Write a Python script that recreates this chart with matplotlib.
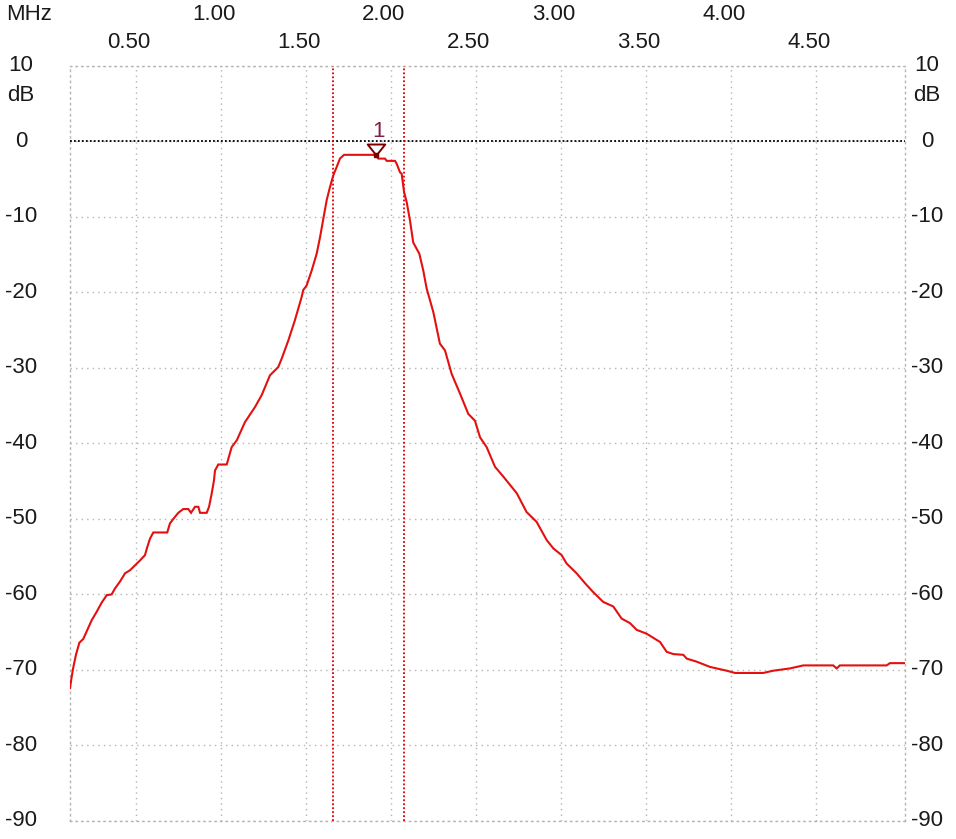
import matplotlib
matplotlib.use("Agg")
import matplotlib.pyplot as plt
from matplotlib.path import Path
from matplotlib.transforms import blended_transform_factory, offset_copy

# ---- data ----
freq_mhz = [0.112, 0.122, 0.131, 0.147, 0.167, 0.190, 0.220, 0.240, 0.269, 0.298,
            0.328, 0.357, 0.377, 0.406, 0.436, 0.465, 0.524, 0.553, 0.567, 0.583,
            0.602, 0.684, 0.700, 0.720, 0.749, 0.778, 0.808, 0.824, 0.847, 0.867,
            0.877, 0.916, 0.930, 0.946, 0.959, 0.965, 0.984, 1.034, 1.063, 1.093,
            1.141, 1.200, 1.240, 1.288, 1.337, 1.357, 1.396, 1.435, 1.475, 1.484,
            1.504, 1.534, 1.563, 1.583, 1.602, 1.622, 1.641, 1.661, 1.681, 1.700,
            1.724, 1.906, 1.926, 1.965, 1.975, 2.024, 2.034, 2.053, 2.063, 2.077,
            2.093, 2.112, 2.131, 2.167, 2.190, 2.210, 2.249, 2.288, 2.318, 2.357,
            2.406, 2.455, 2.494, 2.524, 2.563, 2.612, 2.661, 2.740, 2.798, 2.857,
            2.916, 2.955, 3.004, 3.033, 3.092, 3.141, 3.190, 3.249, 3.308, 3.357,
            3.406, 3.446, 3.504, 3.583, 3.622, 3.661, 3.720, 3.740, 3.798, 3.877,
            3.975, 4.024, 4.190, 4.249, 4.347, 4.426, 4.602, 4.622, 4.641, 4.779,
            4.916, 4.935, 5.024]
level_db = [-72.4, -70.9, -69.7, -68.0, -66.4, -65.9, -64.4, -63.4, -62.3, -61.1,
            -60.1, -60.0, -59.2, -58.3, -57.2, -56.8, -55.5, -54.8, -53.7, -52.6,
            -51.8, -51.8, -50.6, -50.0, -49.2, -48.7, -48.7, -49.2, -48.4, -48.4,
            -49.2, -49.2, -48.4, -46.6, -44.9, -43.6, -42.8, -42.8, -40.5, -39.6,
            -37.2, -35.2, -33.6, -31.0, -29.9, -28.8, -26.4, -23.7, -20.6, -19.7,
            -19.1, -17.1, -14.9, -12.7, -10.3, -7.8, -6.1, -4.5, -3.4, -2.3,
            -1.8, -1.8, -2.3, -2.3, -2.6, -2.6, -3.0, -4.1, -4.3, -6.7,
            -8.1, -10.5, -13.4, -14.9, -17.1, -19.5, -22.6, -26.8, -27.7, -30.8,
            -33.4, -36.1, -37.0, -39.2, -40.5, -43.1, -44.4, -46.6, -49.1, -50.4,
            -52.8, -53.9, -54.8, -55.9, -57.2, -58.5, -59.7, -61.0, -61.6, -63.2,
            -63.8, -64.7, -65.2, -66.3, -67.6, -67.9, -68.0, -68.5, -68.9, -69.6,
            -70.1, -70.4, -70.4, -70.1, -69.8, -69.4, -69.4, -69.8, -69.4, -69.4,
            -69.4, -69.1, -69.1]

cursor_freqs = [1.657, 2.077]
marker_freq = 1.912
marker_db = -1.8
marker_label = "1"

x_ticks_top = [1.0, 2.0, 3.0, 4.0]
x_ticks_bottom = [0.5, 1.5, 2.5, 3.5, 4.5]
y_ticks = [10, 0, -10, -20, -30, -40, -50, -60, -70, -80, -90]
x_unit = "MHz"
y_unit = "dB"
y_unit_pos = 6.0

# ---- figure ----
W, H = 956, 839
fig = plt.figure(figsize=(W / 100, H / 100), dpi=100)
ax_left, ax_right, ax_top, ax_bottom = 70, 905, 65.7, 821
ax = fig.add_axes([ax_left / W, 1 - ax_bottom / H,
                   (ax_right - ax_left) / W, (ax_bottom - ax_top) / H])
ax.set_xlim(0.112, 5.024)
ax.set_ylim(-90, 10)

grid_color = "#b4b4b4"
dot = (0, (1, 3))
ax.set_xticks(x_ticks_bottom + x_ticks_top)
ax.set_yticks(y_ticks)
ax.tick_params(length=0, labelleft=False, labelbottom=False)
ax.grid(True, color=grid_color, linestyle=dot, linewidth=1.0)
for sp in ax.spines.values():
    sp.set_color(grid_color)
    sp.set_linestyle(dot)
    sp.set_linewidth(1.0)

# 0 dB reference line
ax.axhline(0, color="black", linestyle=(0, (1, 1.2)), linewidth=1.3, zorder=3)
# cursor lines
for cf in cursor_freqs:
    ax.axvline(cf, color="#d80000", linestyle=(0, (1, 1.2)), linewidth=1.3, zorder=3)

# trace
ax.plot(freq_mhz, level_db, color="#e41010", linewidth=1.5, zorder=4,
        solid_joinstyle="miter")

# marker
tri = Path([(0, 0), (-0.8, 1.0), (0.8, 1.0), (0, 0)],
           [Path.MOVETO, Path.LINETO, Path.LINETO, Path.CLOSEPOLY])
ax.plot([marker_freq], [marker_db], marker=tri, markersize=15.8,
        markerfacecolor="none", markeredgecolor="#7a0000", markeredgewidth=1.4,
        linestyle="none", zorder=5)
ax.plot([marker_freq], [marker_db], marker="s", markersize=3,
        color="#7a0000", linestyle="none", zorder=6)
ax.annotate(marker_label, xy=(marker_freq, marker_db), xytext=(2, 17),
            textcoords="offset points", ha="center", va="center",
            fontsize=16, color="#80204a", family="Liberation Sans", zorder=6)

# text labels
txt_color = "#1a1a1a"
fs = 16
fam = "Liberation Sans"
tx = blended_transform_factory(ax.transData, fig.transFigure)
tx = offset_copy(tx, fig=fig, x=-7, y=0, units="dots")
for t in x_ticks_top:
    fig.text(t, 1 - 15 / H, f"{t:.2f}", transform=tx, ha="center", va="center",
             fontsize=fs, color=txt_color, family=fam)
for t in x_ticks_bottom:
    fig.text(t, 1 - 43 / H, f"{t:.2f}", transform=tx, ha="center", va="center",
             fontsize=fs, color=txt_color, family=fam)
fig.text(29.5 / W, 1 - 15 / H, x_unit, ha="center", va="center",
         fontsize=fs, color=txt_color, family=fam)

ty = blended_transform_factory(fig.transFigure, ax.transData)
for xpx in (21, 927):
    for v in y_ticks:
        fig.text(xpx / W, v, f"{v:d}", transform=ty, ha="center", va="center",
                 fontsize=fs, color=txt_color, family=fam)
    fig.text(xpx / W, y_unit_pos, y_unit, transform=ty, ha="center", va="center",
             fontsize=fs, color=txt_color, family=fam)

fig.savefig("out.png", dpi=100)
